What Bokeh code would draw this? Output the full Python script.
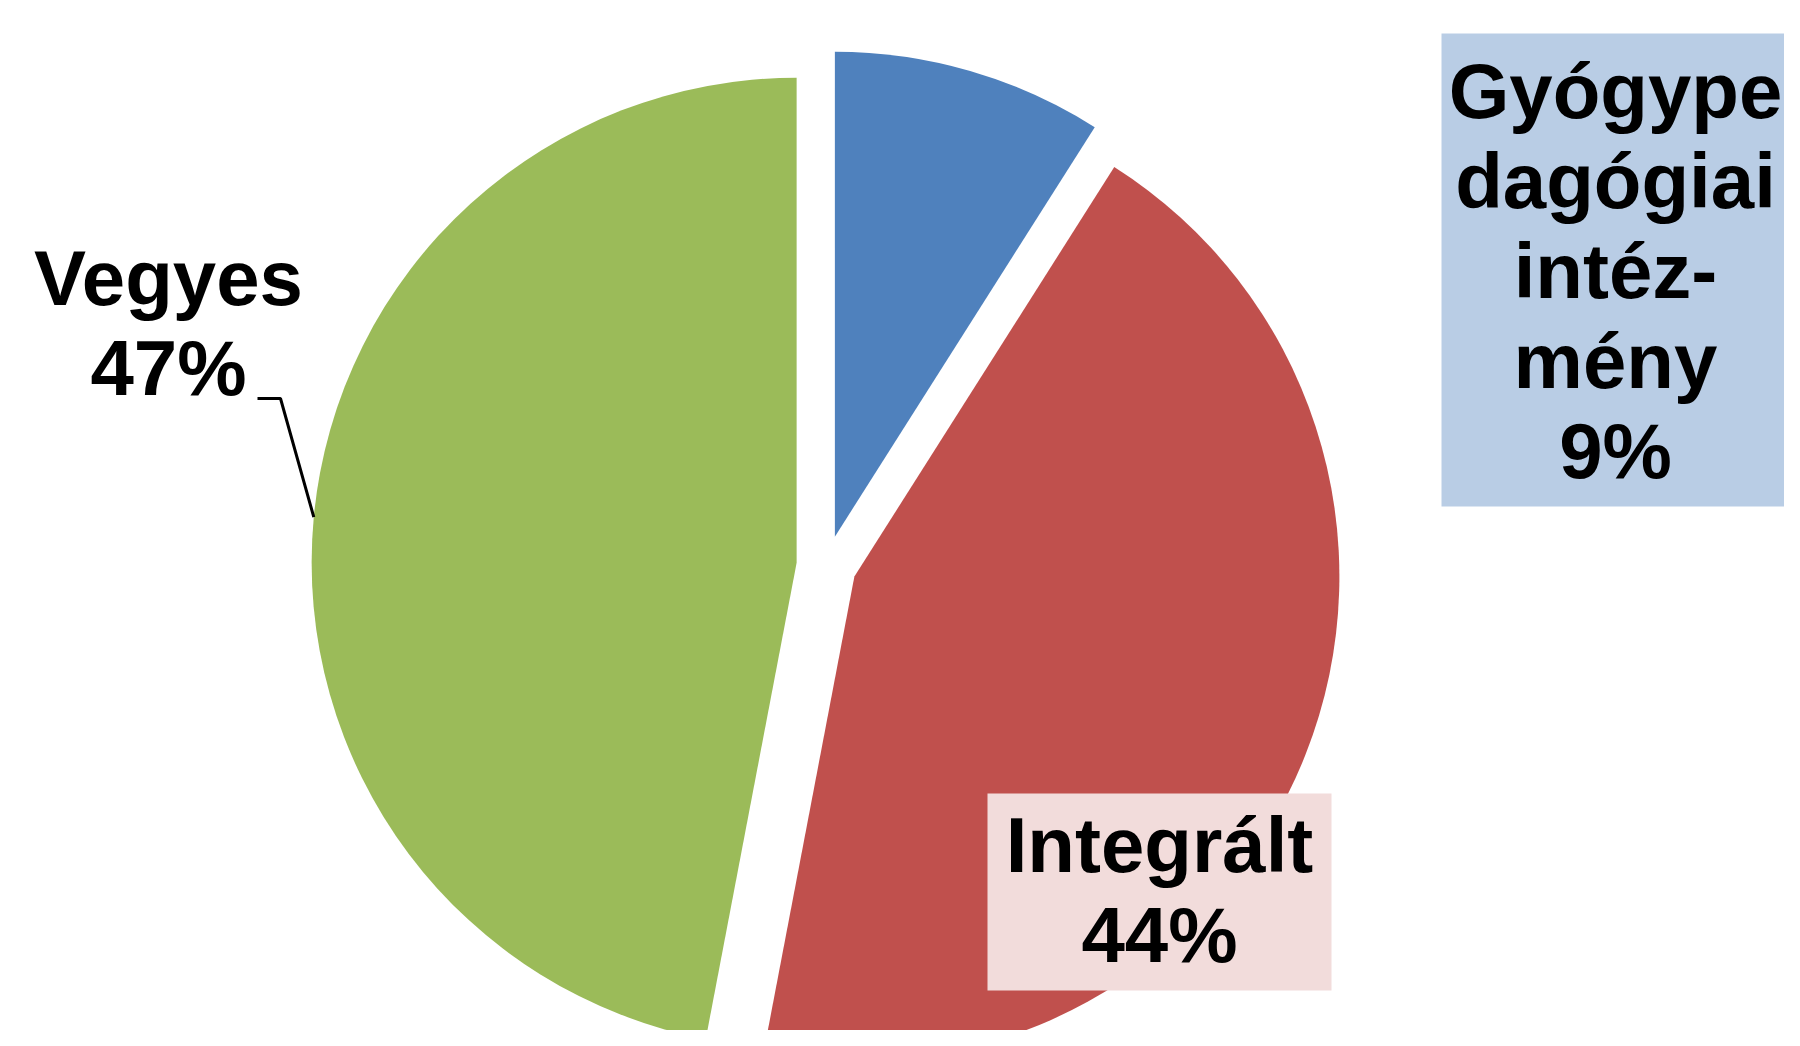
import numpy as np
from bokeh.plotting import figure
from bokeh.models import Range1d
from bokeh.core.properties import value
from bokeh.embed import file_html
from bokeh.resources import INLINE

# ---- data ----
categories = ["Gyógypedagógiai intézmény", "Integrált", "Vegyes"]
shares = [9, 44, 47]
colors = ["#4f81bd", "#c0504d", "#9bbb59"]
label_lines = [
    ["Gyógype", "dagógiai", "intéz-", "mény", "9%"],
    ["Integrált", "44%"],
    ["Vegyes", "47%"],
]

# ---- layout (page pixels, y up) ----
W, H = 1784, 1030
CX, CY = 826, 465        # pie centre
R = 485                  # radius
EXPLODE = 30             # explosion distance
FONT = value("Liberation Sans")
FS = "78px"
PITCH = 90

p = figure(width=W, height=H, output_backend="svg", toolbar_location=None,
           x_range=Range1d(0, W), y_range=Range1d(0, H),
           x_axis_location=None, y_axis_location=None, min_border=0)
p.grid.visible = False
p.outline_line_color = None
p.background_fill_color = "white"

vals = np.array(shares, dtype=float)
frac = vals / vals.sum()
cum_end = np.cumsum(frac)
cum_start = cum_end - frac
start = np.deg2rad(90 - cum_end * 360)
end = np.deg2rad(90 - cum_start * 360)
mid = (start + end) / 2
xs = CX + EXPLODE * np.cos(mid)
ys = CY + EXPLODE * np.sin(mid)

p.wedge(x=xs, y=ys, radius=R, start_angle=start, end_angle=end,
        fill_color=colors, line_color=None)

# label backgrounds
p.quad(left=[1441], right=[1800], top=[997], bottom=[524],
       fill_color="#b9cde5", line_color=None)
p.quad(left=[987], right=[1331], top=[237], bottom=[40],
       fill_color="#f2dcdb", line_color=None)

# labels
anchors = [(1615, 940), (1159, 186), (168, 753)]
for lines, (ax, ay) in zip(label_lines, anchors):
    n = len(lines)
    p.text(x=[ax] * n, y=[ay - i * PITCH for i in range(n)], text=lines,
           text_font=FONT, text_font_style="bold", text_font_size=FS,
           text_align="center", text_baseline="alphabetic", text_color="black")

# leader line for Vegyes
gi = 2
ex = xs[gi] + R * np.cos(mid[gi])
ey = ys[gi] + R * np.sin(mid[gi])
p.line(x=[257, 280, ex], y=[632, 632, ey], line_color="black", line_width=3)

open("out.html", "w").write(file_html(p, INLINE))
